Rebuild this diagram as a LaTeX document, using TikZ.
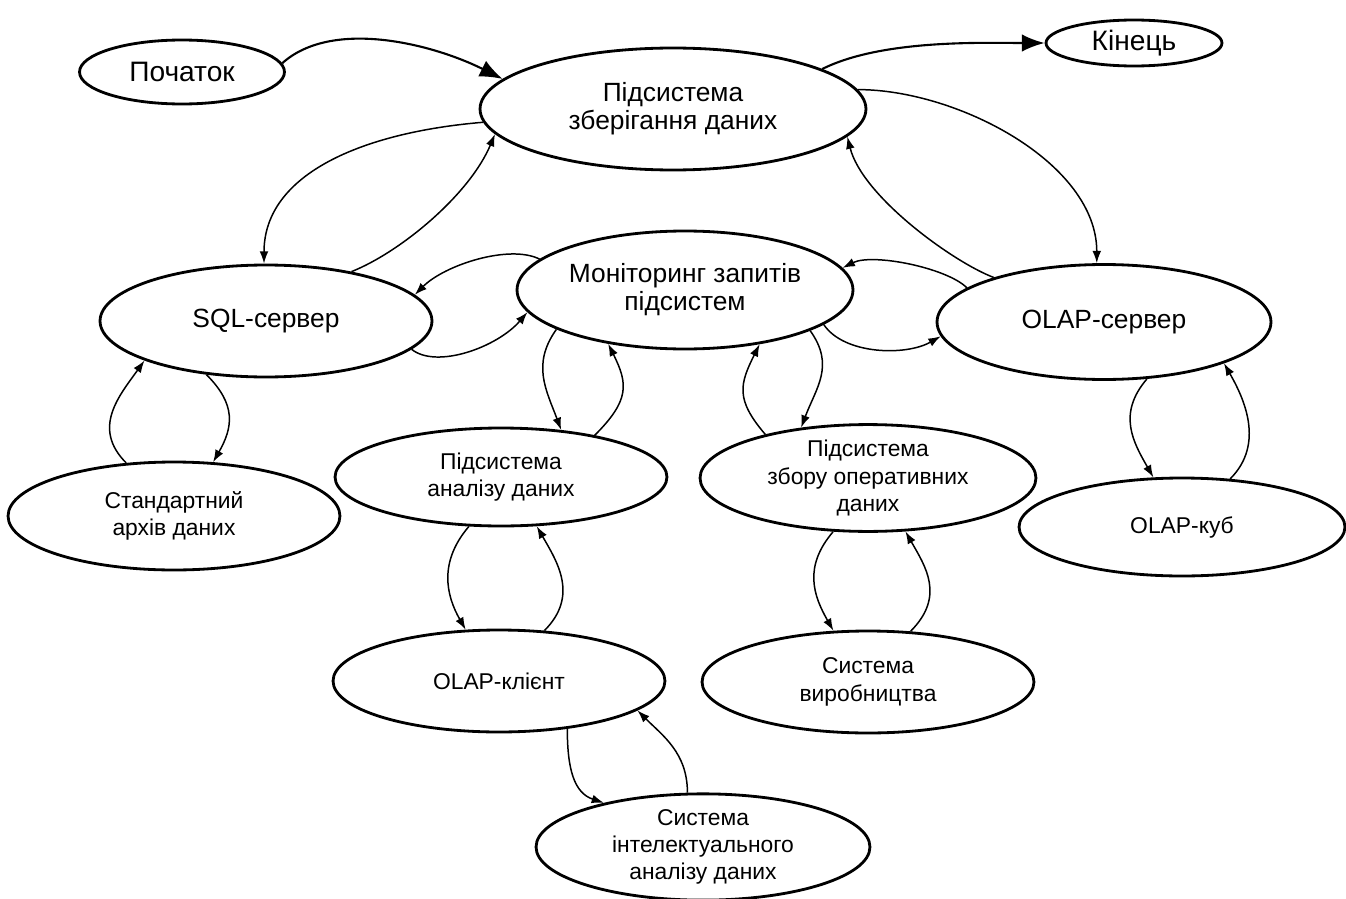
\documentclass[tikz,border=0pt]{standalone}
\usepackage{fontspec}
\setmainfont{Liberation Sans}
\usetikzlibrary{shapes.geometric, arrows.meta}

\begin{document}
\begin{tikzpicture}[x=0.02cm, y=-0.02cm,
  oval/.style={ellipse, draw, line width=1.6pt, inner sep=0pt, align=center},
  huge/.style={font=\fontsize{16}{17}\selectfont},
  big/.style={font=\fontsize{15}{16}\selectfont},
  small/.style={font=\fontsize{13}{15.5}\selectfont},
  link/.style={line width=0.85pt, -{Latex[length=7pt, width=5pt]}},
  fat/.style={line width=1.2pt, -{Latex[length=13pt, width=10pt]}}]
  % pixel grid 1346 x 899, y goes down
  \useasboundingbox (0,0) rectangle (1346,899);
  % top row
  \node[oval, huge, minimum width=4.1cm, minimum height=1.28cm] (start) at (182,72) {Початок};
  \node[oval, big, minimum width=7.72cm, minimum height=2.44cm] (store) at (673,109) {Підсистема\\зберігання даних};
  \node[oval, huge, minimum width=3.52cm, minimum height=0.92cm] (fin) at (1134,43) {Кінець};
  % middle row
  \node[oval, big, minimum width=6.72cm, minimum height=2.36cm] (mon) at (685,290) {Моніторинг запитів\\підсистем};
  \node[oval, big, minimum width=6.64cm, minimum height=2.24cm] (sql) at (266,321) {SQL-сервер};
  \node[oval, big, minimum width=6.68cm, minimum height=2.3cm] (olap) at (1104,322) {OLAP-сервер};
  % lower rows
  \node[oval, small, minimum width=6.64cm, minimum height=2.16cm] (arch) at (174,516) {Стандартний\\архів даних};
  \node[oval, small, minimum width=6.64cm, minimum height=1.96cm] (anal) at (501,477) {Підсистема\\аналізу даних};
  \node[oval, small, minimum width=6.72cm, minimum height=2.0cm] (coll) at (868,478) {Підсистема\\збору оперативних\\даних};
  \node[oval, small, minimum width=6.52cm, minimum height=1.96cm] (cube) at (1182,527) {OLAP-куб};
  \node[oval, small, minimum width=6.64cm, minimum height=2.04cm] (cli) at (499,681) {OLAP-клієнт};
  \node[oval, small, minimum width=6.64cm, minimum height=2.04cm] (prod) at (868,682) {Система\\виробництва};
  \node[oval, small, minimum width=6.68cm, minimum height=2.08cm] (dm) at (703,847) {Система\\інтелектуального\\аналізу даних};

  \draw[fat] (start.5) .. controls +(50,-45) and +(-70,-35) .. (store.170);
  \draw[fat] (store.15) .. controls +(60,-30) and +(-60,0) .. (fin.west);

  \draw[link] (store.184) .. controls +(-120,10) and +(0,-90) .. (sql.92);
  \draw[link] (sql.30) .. controls +(50,-20) and +(-25,60) .. (store.188);
  \draw[link] (store.6) .. controls +(100,0) and +(0,-100) .. (olap.97);
  \draw[link] (olap.158) .. controls +(-40,-15) and +(15,60) .. (store.-9);

  \draw[link] (mon.168) .. controls +(-30,-15) and +(30,-30) .. (sql.10);
  \draw[link] (sql.-11) .. controls +(25,20) and +(-30,35) .. (mon.188);
  \draw[link] (olap.166) .. controls +(-20,-20) and +(30,-15) .. (mon.8);
  \draw[link] (mon.-14) .. controls +(20,30) and +(-35,20) .. (olap.185);

  \draw[link] (mon.197) .. controls +(-25,35) and +(-15,-40) .. (anal.38);
  \draw[link] (anal.24) .. controls +(35,-35) and +(20,40) .. (mon.215);
  \draw[link] (mon.-18) .. controls +(25,35) and +(15,-40) .. (coll.143);
  \draw[link] (coll.157) .. controls +(-30,-35) and +(-20,40) .. (mon.-36);

  \draw[link] (sql.222) .. controls +(30,30) and +(20,-35) .. (arch.54);
  \draw[link] (arch.132) .. controls +(-35,-35) and +(-25,35) .. (sql.198);
  \draw[link] (olap.-53) .. controls +(-30,35) and +(-20,-35) .. (cube.120);
  \draw[link] (cube.45) .. controls +(35,-35) and +(20,35) .. (olap.-19);

  \draw[link] (anal.237) .. controls +(-30,35) and +(-20,-35) .. (cli.123);
  \draw[link] (cli.48) .. controls +(35,-35) and +(20,35) .. (anal.-54);
  \draw[link] (coll.237) .. controls +(-30,35) and +(-20,-35) .. (prod.124);
  \draw[link] (prod.50) .. controls +(35,-35) and +(20,35) .. (coll.-55);

  \draw[link] (cli.-35) .. controls +(0,40) and +(-30,-10) .. (dm.156);
  \draw[link] (dm.106) .. controls +(0,-40) and +(25,25) .. (cli.-12);
\end{tikzpicture}
\end{document}
